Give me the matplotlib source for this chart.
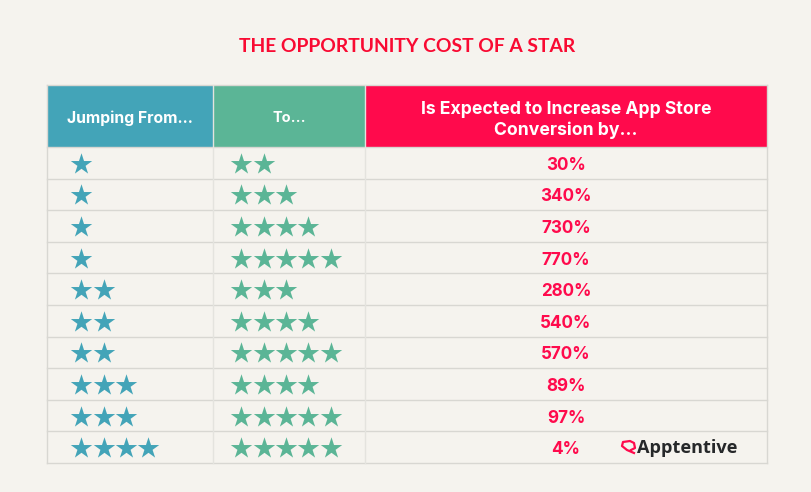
import matplotlib
matplotlib.use("Agg")
import matplotlib.pyplot as plt
from matplotlib.patches import Rectangle

W, H = 812, 492
BG = "#f5f3ee"
BLUE = "#43a4b8"
GREEN = "#5bb596"
RED = "#ff0a4c"
TITLE_RED = "#f90a32"
GRID = "#d8d7d2"

# data
from_stars = [1, 1, 1, 1, 2, 2, 2, 3, 3, 4]
to_stars = [2, 3, 4, 5, 3, 4, 5, 4, 5, 5]
increase = ["30%", "340%", "730%", "770%", "280%", "540%", "570%", "89%", "97%", "4%"]
headers = ["Jumping From...", "To...", "Is Expected to Increase App Store\nConversion by..."]
header_sizes = [11.3, 10.4, 12.7]
header_y = [118, 118, 120]

# table layout in pixels
col_x = [47, 213, 365, 767]
top, head_bottom, bottom = 84.5, 147, 463
row_h = (bottom - head_bottom) / len(increase)
star_step = 22.3
star_size = 262

plt.rcParams["font.family"] = ["Lato", "DejaVu Sans"]

fig = plt.figure(figsize=(W / 100, H / 100), dpi=100, facecolor=BG)
ax = fig.add_axes([0, 0, 1, 1])
ax.set_xlim(0, W)
ax.set_ylim(H, 0)
ax.axis("off")

ax.text(407.5, 46.5, "THE OPPORTUNITY COST OF A STAR", color=TITLE_RED, fontsize=13.9,
        fontweight="bold", ha="center", va="center")

# header
for i, c in enumerate([BLUE, GREEN, RED]):
    ax.add_patch(Rectangle((col_x[i], top), col_x[i + 1] - col_x[i], head_bottom - top,
                           facecolor=c, edgecolor="none", zorder=1))
    ax.text((col_x[i] + col_x[i + 1]) / 2, header_y[i], headers[i], color="white", fontsize=header_sizes[i],
            fontweight="bold", family="Inter", ha="center", va="center", linespacing=1.25, zorder=3)

# grid
for i in range(len(increase) + 1):
    y = head_bottom + i * row_h
    ax.plot([col_x[0], col_x[-1]], [y, y], color=GRID, lw=1.0, zorder=2)
ax.plot([col_x[0], col_x[-1]], [top, top], color=GRID, lw=1.0, zorder=2)
for i, x in enumerate(col_x):
    ax.plot([x, x], [top, bottom], color="#e4e3de" if i in (1, 2) else GRID, lw=1.0, zorder=2)

# rows
for i in range(len(increase)):
    y = head_bottom + (i + 0.5) * row_h
    ax.scatter([81.5 + k * star_step for k in range(from_stars[i])], [y + 1] * from_stars[i],
               marker="*", s=star_size, color=BLUE, linewidths=0, zorder=3)
    ax.scatter([241.5 + k * star_step for k in range(to_stars[i])], [y + 1] * to_stars[i],
               marker="*", s=star_size, color=GREEN, linewidths=0, zorder=3)
    ax.text(566, y + 2.5, increase[i], color=RED, fontsize=12.3, fontweight="bold",
            family="Inter", ha="center", va="center", zorder=3)

# logo
ax.plot([634, 627, 622, 623, 630, 634, 635, 631], [453, 450, 446, 442, 441, 443, 448, 450],
        color=RED, lw=1.6, zorder=3)
ax.text(637.5, 448, "Apptentive", color="#26282a", fontsize=13.1, fontweight="bold",
        family="Open Sans", ha="left", va="center", zorder=3)

fig.savefig("out.png", dpi=100, facecolor=BG)
